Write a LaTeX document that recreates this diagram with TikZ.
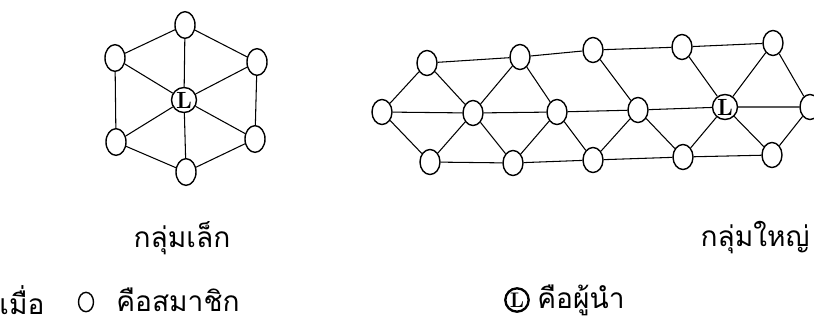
\documentclass[tikz,border=0pt]{standalone}
\usepackage{fontspec}
\newfontfamily\thaifont[Script=Thai]{Loma}
\usetikzlibrary{shapes.geometric}

\begin{document}
\begin{tikzpicture}[
        x=0.03cm, y=-0.03cm,
        member/.style={draw, ellipse, line width=1.2pt, minimum width=0.6cm, minimum height=0.8cm, inner sep=0pt},
        leader/.style={draw, circle, line width=1.2pt, minimum size=0.75cm, inner sep=0pt, font=\bfseries\fontsize{20}{20}\selectfont},
        tie/.style={line width=0.9pt},
        label/.style={font=\thaifont\fontsize{24}{28}\selectfont, inner sep=0pt}
    ]
    \useasboundingbox (0,0) rectangle (814,327);

    % Nodes - small group (hexagon)
    \node[member] (st)  at (185,25)  {};
    \node[member] (sul) at (115,58)  {};
    \node[member] (sur) at (257,62)  {};
    \node[member] (sll) at (116,142) {};
    \node[member] (slr) at (255,139) {};
    \node[member] (sb)  at (186,172) {};
    \node[leader] (sc)  at (184,100) {L};

    % Arrows - small group
    \draw[tie] (st) -- (sul) -- (sll) -- (sb) -- (slr) -- (sur) -- (st);
    \draw[tie] (sc) -- (st);
    \draw[tie] (sc) -- (sul);
    \draw[tie] (sc) -- (sur);
    \draw[tie] (sc) -- (sll);
    \draw[tie] (sc) -- (slr);
    \draw[tie] (sc) -- (sb);

    % Nodes - large group, top row
    \node[member, minimum height=0.75cm] (t1) at (427,63) {};
    \node[member, minimum height=0.75cm] (t2) at (520,57) {};
    \node[member, minimum height=0.75cm] (t3) at (593,50) {};
    \node[member, minimum height=0.75cm] (t4) at (682,47) {};
    \node[member, minimum height=0.75cm] (t5) at (773,43) {};

    % Nodes - large group, middle row
    \node[member, minimum height=0.75cm] (m1) at (382,112) {};
    \node[member, minimum height=0.75cm] (m2) at (473,113) {};
    \node[member, minimum height=0.75cm] (m3) at (557,112) {};
    \node[member, minimum height=0.75cm] (m4) at (638,110) {};
    \node[leader] (m5) at (725,107) {L};
    \node[member, minimum height=0.75cm] (m6) at (810,107) {};

    % Nodes - large group, bottom row
    \node[member, minimum height=0.75cm] (b1) at (430,162) {};
    \node[member, minimum height=0.75cm] (b2) at (513,163) {};
    \node[member, minimum height=0.75cm] (b3) at (593,160) {};
    \node[member, minimum height=0.75cm] (b4) at (683,157) {};
    \node[member, minimum height=0.75cm] (b5) at (772,155) {};

    % Arrows - large group rows
    \draw[tie] (t1) -- (t2) -- (t3) -- (t4) -- (t5);
    \draw[tie] (m1) -- (m2) -- (m3) -- (m4) -- (m5) -- (m6);
    \draw[tie] (b1) -- (b2) -- (b3) -- (b4) -- (b5);

    % Arrows - large group diagonals
    \draw[tie] (t1) -- (m1);
    \draw[tie] (t1) -- (m2);
    \draw[tie] (m1) -- (b1);
    \draw[tie] (m2) -- (b1);
    \draw[tie] (t2) -- (m2);
    \draw[tie] (t2) -- (m3);
    \draw[tie] (m2) -- (b2);
    \draw[tie] (m3) -- (b2);
    \draw[tie] (m3) -- (b3);
    \draw[tie] (t3) -- (m4);
    \draw[tie] (m4) -- (b3);
    \draw[tie] (m4) -- (b4);
    \draw[tie] (t4) -- (m5);
    \draw[tie] (m5) -- (b4);
    \draw[tie] (m5) -- (t5);
    \draw[tie] (m5) -- (b5);
    \draw[tie] (t5) -- (m6);
    \draw[tie] (m6) -- (b5);

    % Group titles
    \node[label] (small) at (182,238) {กลุ่มเล็ก};
    \node[label] (large) at (755,238) {กลุ่มใหญ่};

    % Legend
    \node[label] (when) at (22,300) {เมื่อ};
    \node[member, minimum width=0.45cm, minimum height=0.58cm] (keym) at (86,302) {};
    \node[label] (keymtxt) at (178,300) {คือสมาชิก};
    \node[leader, minimum size=0.7cm, line width=2pt, font=\bfseries\fontsize{18}{18}\selectfont] (keyl) at (517,300) {L};
    \node[label] (keyltxt) at (581,300) {คือผู้นำ};

\end{tikzpicture}
\end{document}
